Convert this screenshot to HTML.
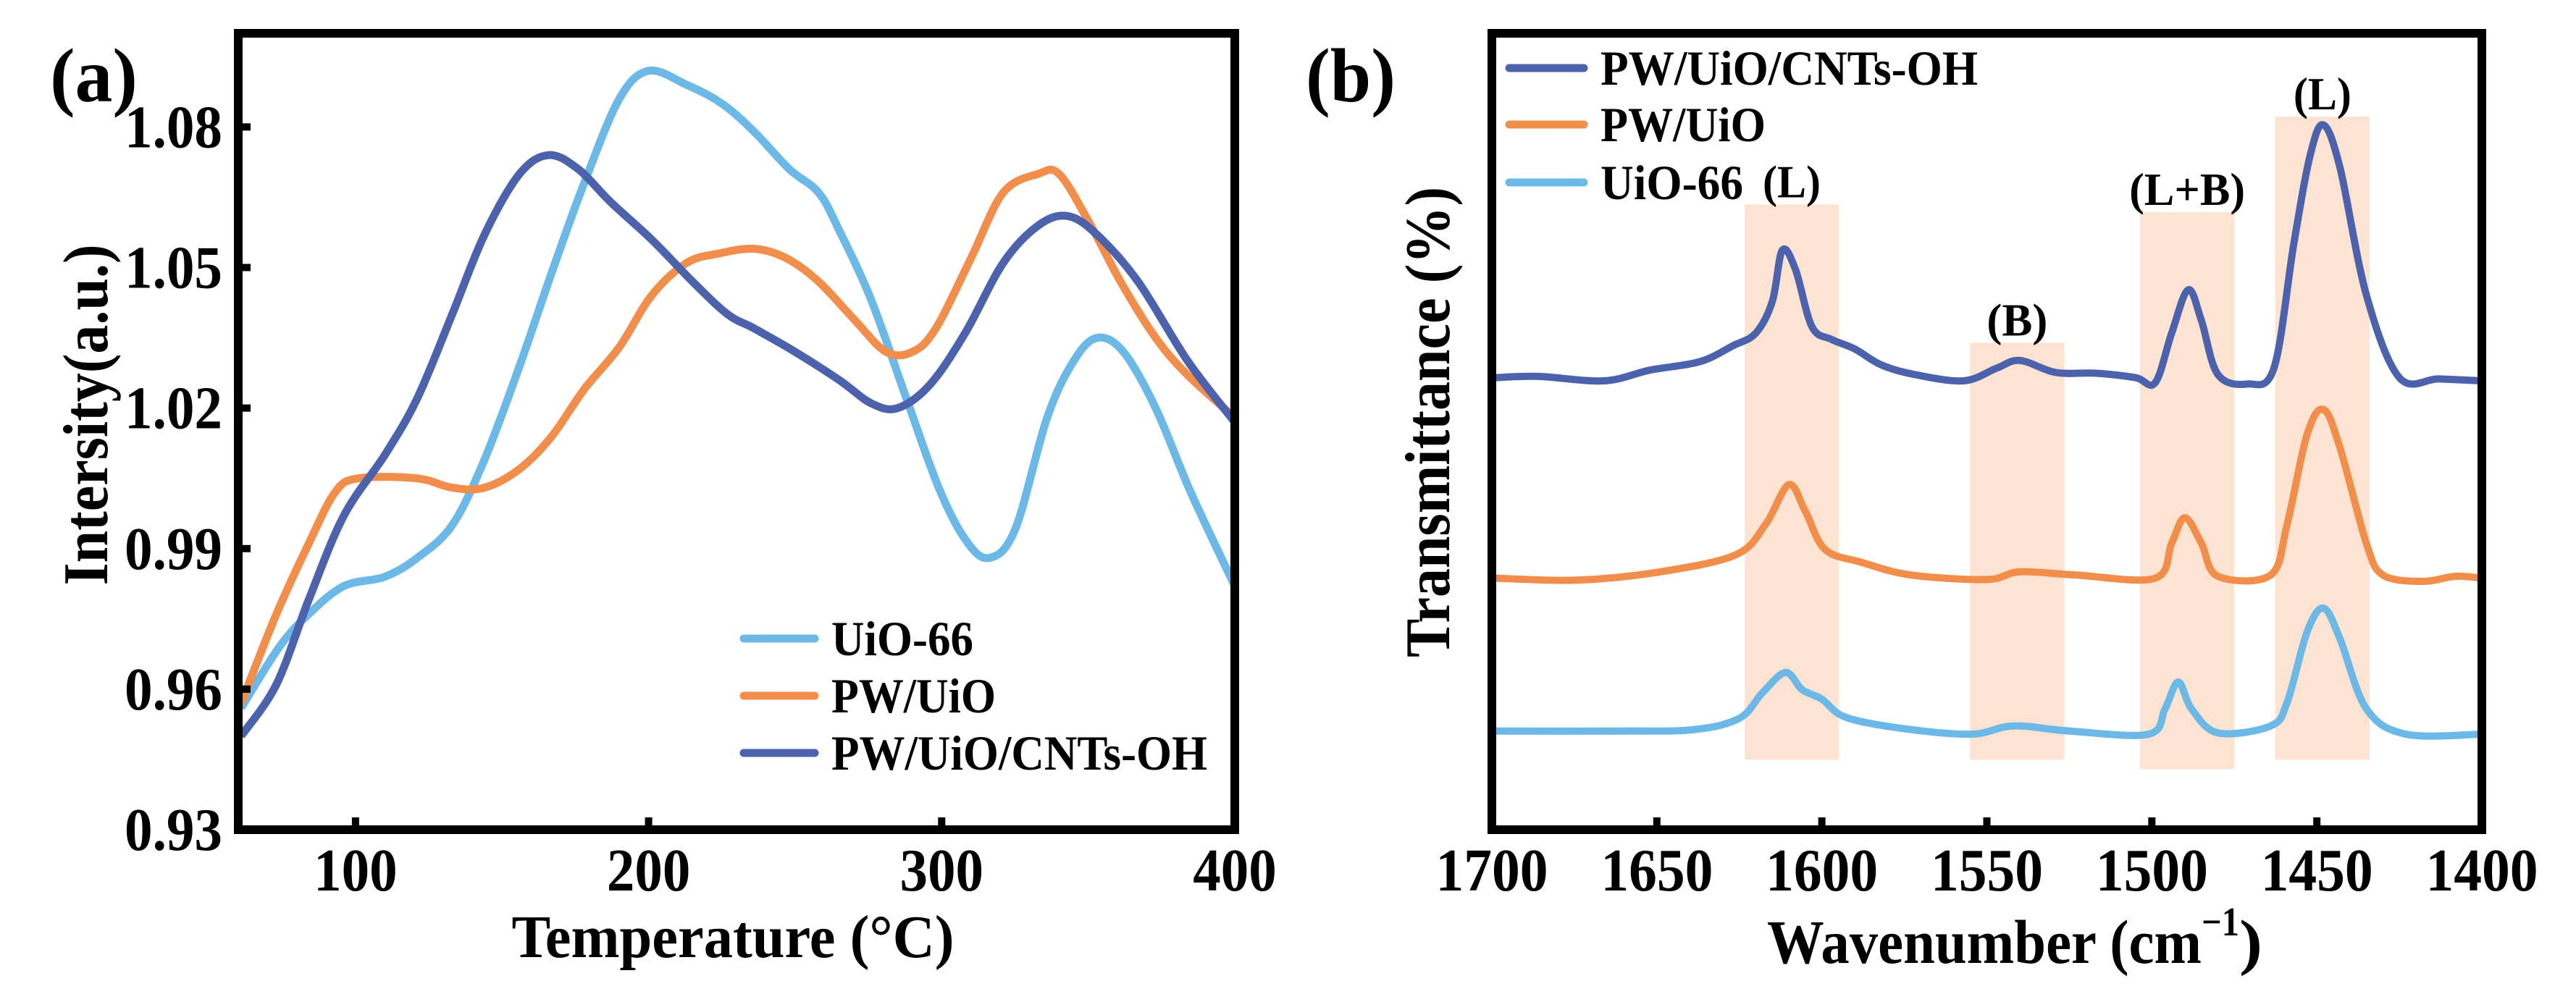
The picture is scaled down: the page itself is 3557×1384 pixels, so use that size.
<!DOCTYPE html>
<html><head><meta charset="utf-8"><style>
html,body{margin:0;padding:0;background:#fff;}
svg{display:block;font-family:"Liberation Serif",serif;font-weight:bold;}
</style></head><body>
<svg id="fig" width="3557" height="1384" viewBox="0 0 3557 1384" xmlns="http://www.w3.org/2000/svg">
<g id="pa"></g>
<g id="pb"></g>
</svg>
<script>
// ---------- Panel (a) data ----------
const aTicksX = [100, 200, 300, 400];
const aTicksY = [0.93, 0.96, 0.99, 1.02, 1.05, 1.08];
const aTickLabelsY = ["0.93", "0.96", "0.99", "1.02", "1.05", "1.08"];
const uioX = [61,74,84,96,110,121,133,144,156,167,178,190,200,213,225,236,248,258,265,276,288,299,308,316,325,336,345,353,362,373,385,400];
const uioY = [0.956,0.969,0.976,0.982,0.984,0.988,0.995,1.009,1.029,1.049,1.068,1.086,1.092,1.089,1.085,1.079,1.071,1.066,1.058,1.043,1.022,1.003,0.992,0.988,0.994,1.018,1.030,1.035,1.032,1.020,1.002,0.982];
const pwX = [61,73,84,93,101,121,133,144,156,167,178,190,201,213,224,236,247,258,270,281,290,298,310,321,333,340,350,361,373,384,400];
const pwY = [0.957,0.976,0.991,1.002,1.005,1.005,1.003,1.003,1.007,1.014,1.024,1.033,1.044,1.051,1.053,1.054,1.052,1.047,1.039,1.032,1.032,1.037,1.052,1.066,1.070,1.070,1.060,1.047,1.035,1.027,1.018];
const cntX = [61,73,84,96,110,121,133,144,156,166,176,187,201,215,227,236,250,265,276,285,296,308,321,333,343,353,367,384,400];
const cntY = [0.950,0.961,0.979,0.997,1.010,1.022,1.040,1.057,1.070,1.074,1.071,1.064,1.056,1.047,1.040,1.037,1.032,1.026,1.021,1.020,1.025,1.036,1.051,1.059,1.061,1.057,1.047,1.030,1.017];

// ---------- Panel (b) data ----------
const bTicksX = [1700, 1650, 1600, 1550, 1500, 1450, 1400];
const cntBX = [1699,1686,1666,1652,1637,1627,1620,1615,1612,1608,1603,1597,1590,1582,1572,1557,1547,1540,1529,1517,1505,1499,1494,1489,1485,1480,1471,1463,1457,1452,1448,1443,1435,1425,1413,1400];
const cntBY = [710,712,705,722,735,760,780,830,910,880,790,770,755,730,715,705,725,737,718,717,710,702,780,848,800,715,700,725,920,1060,1107,1040,840,710,708,705];
const pwBX = [1699,1674,1649,1626,1617,1610,1605,1599,1588,1573,1550,1540,1523,1499,1494,1490,1485,1480,1464,1459,1453,1448,1443,1435,1430,1418,1408,1400];
const pwBY = [395,392,405,432,480,542,500,440,420,400,393,405,400,395,450,490,450,398,400,480,620,660,600,450,400,390,398,395];
const uioBX = [1699,1661,1639,1625,1618,1611,1606,1600,1593,1577,1555,1542,1525,1501,1496,1492,1488,1480,1464,1459,1453,1448,1443,1435,1423,1400];
const uioBY = [155,155,157,175,215,247,220,205,177,160,150,163,155,150,190,232,190,152,163,200,310,348,300,190,150,150];
const bandFrom = [1623.4, 1555.1, 1503.6, 1462.6];
const bandTo = [1594.9, 1526.5, 1475.0, 1434.0];
const bandTop = [982, 765, 970, 1120];
const bandBottom = [110, 110, 95, 110];
const bandLabels = ["(L)", "(B)", "(L+B)", "(L)"];

const NS = "http://www.w3.org/2000/svg";
function mk(parent, tag, attrs, text) {
  const e = document.createElementNS(NS, tag);
  for (const k in attrs) e.setAttribute(k, attrs[k]);
  if (text !== undefined) e.textContent = text;
  parent.appendChild(e);
  return e;
}
function fit(e, len) {
  e.setAttribute("textLength", len);
  e.setAttribute("lengthAdjust", "spacingAndGlyphs");
}
function smoothPath(pts) {
  let d = "M" + pts[0][0].toFixed(1) + "," + pts[0][1].toFixed(1);
  for (let i = 0; i < pts.length - 1; i++) {
    const p0 = pts[Math.max(0, i - 1)], p1 = pts[i], p2 = pts[i + 1], p3 = pts[Math.min(pts.length - 1, i + 2)];
    const c1x = p1[0] + (p2[0] - p0[0]) / 6, c1y = p1[1] + (p2[1] - p0[1]) / 6;
    const c2x = p2[0] - (p3[0] - p1[0]) / 6, c2y = p2[1] - (p3[1] - p1[1]) / 6;
    d += " C" + c1x.toFixed(1) + "," + c1y.toFixed(1) + " " + c2x.toFixed(1) + "," + c2y.toFixed(1) + " " + p2[0].toFixed(1) + "," + p2[1].toFixed(1);
  }
  return d;
}
const C_LB = "#6cb8e6", C_OR = "#f28e4b", C_DB = "#4d62ad";

// ===== Panel A =====
const pa = document.getElementById("pa");
const aL = 329, aR = 1705, aT = 46, aB = 1146;
const ax = v => aL + (v - 60) / 340 * (aR - aL);
const ay = v => aB - (v - 0.93) / 0.17 * (aB - aT);
const aClip = mk(pa, "clipPath", {id: "clipA"});
mk(aClip, "rect", {x: aL, y: aT, width: aR - aL, height: aB - aT});
const aSeries = [[uioX, uioY, C_LB, "uio66-line"], [pwX, pwY, C_OR, "pw-uio-line"], [cntX, cntY, C_DB, "pw-uio-cnts-oh-line"]];
aSeries.forEach(s => {
  const p = mk(pa, "path", {d: smoothPath(s[0].map((x, i) => [ax(x), ay(s[1][i])])), fill: "none", stroke: s[2], "stroke-width": 11, "stroke-linejoin": "round", "clip-path": "url(#clipA)"});
  
  
});
const aBox = mk(pa, "rect", {x: aL, y: aT, width: aR - aL, height: aB - aT, fill: "none", stroke: "#000", "stroke-width": 12});


aTicksX.forEach(t => {
  mk(pa, "line", {x1: ax(t), x2: ax(t), y1: aB, y2: aB - 17, stroke: "#000", "stroke-width": 10});
  const s = String(t);
  const tl = mk(pa, "text", {x: ax(t), y: 1230, "font-size": 84, "text-anchor": "middle"}, s);
  fit(tl, s.length * 38.5);
  
  
});
aTicksY.forEach((t, i) => {
  mk(pa, "line", {x1: aL, x2: aL + 17, y1: ay(t), y2: ay(t), stroke: "#000", "stroke-width": 10});
  const tl = mk(pa, "text", {x: 307, y: ay(t) + 28, "font-size": 84, "text-anchor": "end"}, aTickLabelsY[i]);
  fit(tl, 135);
  
  
});
const aXT = mk(pa, "text", {x: 1012, y: 1322, "font-size": 84, "text-anchor": "middle"}, "Temperature (\u00B0C)");
fit(aXT, 611);


const aYT = mk(pa, "text", {x: 0, y: 0, "font-size": 88, "text-anchor": "middle", transform: "translate(148,573) rotate(-90)"}, "Intersity(a.u.)");
fit(aYT, 471);


const aLab = mk(pa, "text", {x: 69, y: 140, "font-size": 106}, "(a)");
fit(aLab, 121);


const aLeg = [["UiO-66", C_LB, 882, 196], ["PW/UiO", C_OR, 961, 227], ["PW/UiO/CNTs-OH", C_DB, 1040, 519]];
aLeg.forEach(l => {
  const g = mk(pa, "g", {});
  
  
  mk(g, "line", {x1: 1027, x2: 1125, y1: l[2], y2: l[2], stroke: l[1], "stroke-width": 11, "stroke-linecap": "round"});
  const t = mk(g, "text", {x: 1148, y: l[2] + 23, "font-size": 68}, l[0]);
  fit(t, l[3]);
});

// ===== Panel B =====
const pb = document.getElementById("pb");
const bL = 2060, bR = 3427, bT = 46, bB = 1146;
const bx = v => bL + (1700 - v) / 300 * (bR - bL);
const by = v => bB - v * 0.8794;
const bandW = [80, 84, 160, 80];
bandFrom.forEach((f, i) => {
  const r = mk(pb, "rect", {x: bx(f), y: by(bandTop[i]), width: bx(bandTo[i]) - bx(f), height: by(bandBottom[i]) - by(bandTop[i]), fill: "#fde4d2"});
  
  
  const t = mk(pb, "text", {x: (bx(f) + bx(bandTo[i])) / 2, y: by(bandTop[i]) - 10, "font-size": 64, "text-anchor": "middle"}, bandLabels[i]);
  fit(t, bandW[i]);
  
  
});
const bSeries = [[uioBX, uioBY, C_LB, "uio66-spectrum"], [pwBX, pwBY, C_OR, "pw-uio-spectrum"], [cntBX, cntBY, C_DB, "pw-uio-cnts-oh-spectrum"]];
bSeries.forEach(s => {
  const p = mk(pb, "path", {d: smoothPath(s[0].map((x, i) => [bx(x), by(s[1][i])])), fill: "none", stroke: s[2], "stroke-width": 10, "stroke-linejoin": "round"});
  
  
});
const bBox = mk(pb, "rect", {x: bL, y: bT, width: bR - bL, height: bB - bT, fill: "none", stroke: "#000", "stroke-width": 12});


bTicksX.forEach(t => {
  mk(pb, "line", {x1: bx(t), x2: bx(t), y1: bB, y2: bB - 17, stroke: "#000", "stroke-width": 10});
  const s = String(t);
  const tl = mk(pb, "text", {x: bx(t), y: 1230, "font-size": 84, "text-anchor": "middle"}, s);
  fit(tl, 155);
  
  
});
const bXT = mk(pb, "text", {x: 2440, y: 1330, "font-size": 86});


bXT.innerHTML = '<tspan textLength="600" lengthAdjust="spacingAndGlyphs">Wavenumber (cm</tspan><tspan font-size="56" dy="-38" textLength="52" lengthAdjust="spacingAndGlyphs">\u22121</tspan><tspan dy="38" textLength="32" lengthAdjust="spacingAndGlyphs">)</tspan>';
const bYT = mk(pb, "text", {x: 0, y: 0, "font-size": 88, "text-anchor": "middle", transform: "translate(2001,583) rotate(-90)"}, "Transmittance (%)");
fit(bYT, 650);


const bLab = mk(pb, "text", {x: 1803, y: 140, "font-size": 106}, "(b)");
fit(bLab, 124);


const bLeg = [["PW/UiO/CNTs-OH", C_DB, 94, 521], ["PW/UiO", C_OR, 172, 228], ["UiO-66", C_LB, 252, 197]];
bLeg.forEach(l => {
  const g = mk(pb, "g", {});
  
  
  mk(g, "line", {x1: 2084, x2: 2187, y1: l[2], y2: l[2], stroke: l[1], "stroke-width": 11, "stroke-linecap": "round"});
  const t = mk(g, "text", {x: 2210, y: l[2] + 23, "font-size": 68}, l[0]);
  fit(t, l[3]);
});
</script>
</body></html>
